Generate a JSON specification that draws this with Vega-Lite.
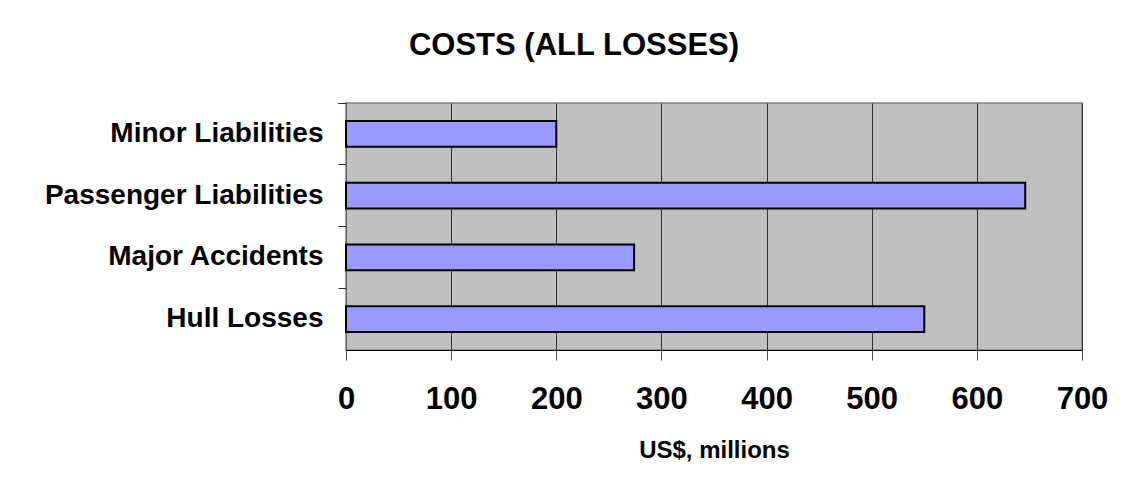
{
  "$schema": "https://vega.github.io/schema/vega-lite/v6.json",
  "autosize": "none",
  "width": 736,
  "height": 247,
  "padding": {"left": 346, "top": 103, "right": 45, "bottom": 145},
  "background": "white",
  "title": {
    "text": "COSTS (ALL LOSSES)",
    "font": "Liberation Sans",
    "fontSize": 31,
    "fontWeight": "bold",
    "color": "black",
    "anchor": "middle",
    "frame": "group",
    "dx": -140,
    "offset": 27
  },
  "data": {
    "values": [
      {"category": "Minor Liabilities", "cost": 200},
      {"category": "Passenger Liabilities", "cost": 646},
      {"category": "Major Accidents", "cost": 274},
      {"category": "Hull Losses", "cost": 550}
    ]
  },
  "mark": {
    "type": "bar",
    "color": "#9999FF",
    "stroke": "black",
    "strokeWidth": 2,
    "height": {"band": 0.42}
  },
  "encoding": {
    "y": {
      "field": "category",
      "type": "nominal",
      "sort": null,
      "scale": {"paddingInner": 0, "paddingOuter": 0},
      "axis": {
        "title": null,
        "bandPosition": 0,
        "tickExtra": true,
        "grid": false,
        "domainColor": "#606060",
        "tickColor": "#303030",
        "tickSize": 8,
        "labelFont": "Liberation Sans",
        "labelFontSize": 28,
        "labelFontWeight": "bold",
        "labelColor": "black",
        "labelPadding": 15,
        "labelLimit": 500
      }
    },
    "x": {
      "field": "cost",
      "type": "quantitative",
      "scale": {"domain": [0, 700], "nice": false},
      "axis": {
        "title": "US$, millions",
        "values": [0, 100, 200, 300, 400, 500, 600, 700],
        "grid": true,
        "gridColor": "#303030",
        "gridWidth": 1,
        "domainColor": "black",
        "tickColor": "#505050",
        "tickSize": 10,
        "labelFont": "Liberation Sans",
        "labelFontSize": 31,
        "labelFontWeight": "bold",
        "labelColor": "black",
        "labelPadding": 24,
        "labelFlush": false,
        "labelOverlap": false,
        "titleFont": "Liberation Sans",
        "titleFontSize": 24,
        "titleFontWeight": "bold",
        "titleColor": "black",
        "titlePadding": 24
      }
    }
  },
  "config": {
    "view": {"fill": "#C0C0C0", "stroke": "#808080", "strokeWidth": 1.5}
  }
}
